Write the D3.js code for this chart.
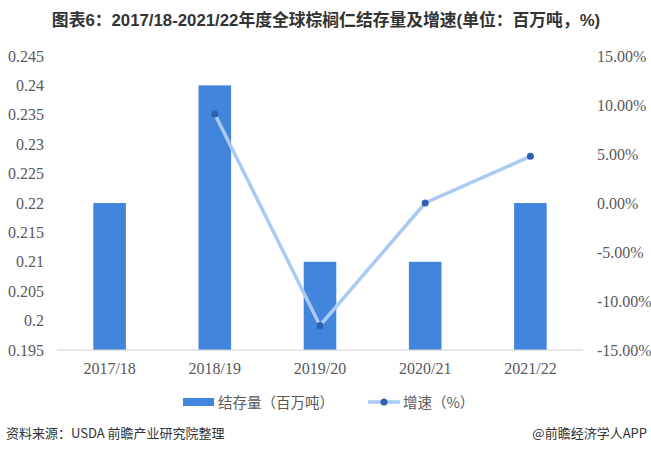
<!DOCTYPE html>
<html>
<head>
<meta charset="utf-8">
<script src="https://cdn.jsdelivr.net/npm/d3@7"></script>
<style>
  body { margin: 0; background: #fff; }
  svg { display: block; }
</style>
</head>
<body>
<main></main>
<script>
// chart data
let years = ['2017/18', '2018/19', '2019/20', '2020/21', '2021/22']
let stocks = [0.22, 0.24, 0.21, 0.21, 0.22]
let growth = [null, 9.09, -12.5, 0, 4.76]
let leftTicks = [0.195, 0.2, 0.205, 0.21, 0.215, 0.22, 0.225, 0.23, 0.235, 0.24, 0.245]
let rightTicks = [-15, -10, -5, 0, 5, 10, 15]

let width = 651, height = 452
let plotLeft = 57, plotRight = 583, plotTop = 56, plotBottom = 350

let svg = d3.select('main')
    .append('svg')
    .attr('width', width)
    .attr('height', height)

let x = d3.scaleBand()
    .domain(years)
    .range([plotLeft, plotRight])
    .paddingInner(0.69)
    .paddingOuter(0.345)

let yL = d3.scaleLinear().domain([0.195, 0.245]).range([plotBottom, plotTop])
let yR = d3.scaleLinear().domain([-15, 15]).range([plotBottom, plotTop])

let labelFont = '"Liberation Serif", "DejaVu Serif", serif'

// title
svg.append('text')
    .attr('x', 326)
    .attr('y', 26)
    .attr('text-anchor', 'middle')
    .style('font-family', '"Liberation Sans Narrow", "Liberation Sans", "Noto Sans CJK SC", sans-serif')
    .style('font-weight', 'bold')
    .style('font-size', '16.8px')
    .style('fill', '#333')
    .text('图表6：2017/18-2021/22年度全球棕榈仁结存量及增速(单位：百万吨，%)')

// bars
svg.selectAll('rect.bar')
    .data(stocks)
    .enter()
    .append('rect')
    .attr('class', 'bar')
    .attr('x', (d, i) => x(years[i]))
    .attr('y', d => yL(d))
    .attr('width', x.bandwidth())
    .attr('height', d => plotBottom - yL(d))
    .style('fill', '#4285dc')

// baseline
svg.append('line')
    .attr('x1', plotLeft).attr('x2', plotRight)
    .attr('y1', plotBottom).attr('y2', plotBottom)
    .style('stroke', '#d0d0d0')
    .style('stroke-width', 1)

// left axis
let axisL = d3.axisLeft(yL).tickValues(leftTicks).tickSize(0).tickPadding(13)
    .tickFormat(d => d3.format('')(+d.toFixed(3)))
let gL = svg.append('g').attr('transform', `translate(${plotLeft},0)`).call(axisL)
gL.select('.domain').remove()
gL.selectAll('text')
    .style('font-family', labelFont)
    .style('font-size', '16px')
    .style('fill', '#595959')

// right axis
let axisR = d3.axisRight(yR).tickValues(rightTicks).tickSize(0).tickPadding(14)
    .tickFormat(d => d.toFixed(2) + '%')
let gR = svg.append('g').attr('transform', `translate(${plotRight},0)`).call(axisR)
gR.select('.domain').remove()
gR.selectAll('text')
    .style('font-family', labelFont)
    .style('font-size', '16px')
    .style('fill', '#595959')

// category axis
let axisB = d3.axisBottom(x).tickSize(0).tickPadding(13)
let gB = svg.append('g').attr('transform', `translate(0,${plotBottom})`).call(axisB)
gB.select('.domain').remove()
gB.selectAll('text')
    .style('font-family', labelFont)
    .style('font-size', '16px')
    .style('fill', '#595959')

// growth line
let pts = growth.map((g, i) => ({ year: years[i], g: g })).filter(d => d.g !== null)
let line = d3.line()
    .x(d => x(d.year) + x.bandwidth() / 2)
    .y(d => yR(d.g))

svg.append('path')
    .datum(pts)
    .attr('d', line)
    .style('fill', 'none')
    .style('stroke', '#a9caf2')
    .style('stroke-width', 3.5)

svg.selectAll('circle.pt')
    .data(pts)
    .enter()
    .append('circle')
    .attr('class', 'pt')
    .attr('cx', d => x(d.year) + x.bandwidth() / 2)
    .attr('cy', d => yR(d.g))
    .attr('r', 3.5)
    .style('fill', '#2e62b0')

// legend
let legendFont = '"Noto Sans CJK SC", sans-serif'
svg.append('rect')
    .attr('x', 183).attr('y', 398)
    .attr('width', 31).attr('height', 8)
    .style('fill', '#4285dc')
svg.append('text')
    .attr('x', 218).attr('y', 408)
    .style('font-family', legendFont)
    .style('font-size', '14.5px')
    .style('fill', '#595959')
    .text('结存量（百万吨）')

svg.append('line')
    .attr('x1', 368).attr('x2', 400)
    .attr('y1', 402).attr('y2', 402)
    .style('stroke', '#a9caf2')
    .style('stroke-width', 3.5)
svg.append('circle')
    .attr('cx', 384).attr('cy', 402).attr('r', 3.5)
    .style('fill', '#2e62b0')
svg.append('text')
    .attr('x', 403).attr('y', 408)
    .style('font-family', legendFont)
    .style('font-size', '14.5px')
    .style('fill', '#595959')
    .text('增速（%）')

// footer
svg.append('text')
    .attr('x', 6).attr('y', 438)
    .style('font-family', legendFont)
    .style('font-size', '13px')
    .style('fill', '#333')
    .text('资料来源：USDA 前瞻产业研究院整理')
svg.append('text')
    .attr('x', 647).attr('y', 438)
    .attr('text-anchor', 'end')
    .style('font-family', legendFont)
    .style('font-size', '13px')
    .style('fill', '#333')
    .text('@前瞻经济学人APP')
</script>
</body>
</html>
